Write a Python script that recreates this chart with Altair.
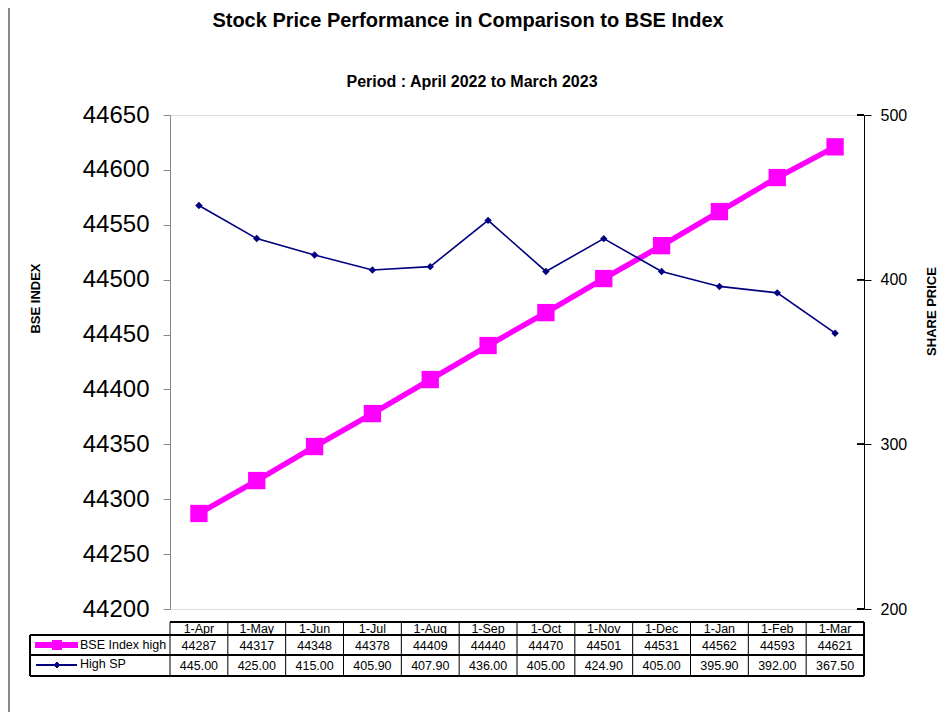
import altair as alt
import pandas as pd

months = ["1-Apr", "1-May", "1-Jun", "1-Jul", "1-Aug", "1-Sep",
          "1-Oct", "1-Nov", "1-Dec", "1-Jan", "1-Feb", "1-Mar"]
bse_high = [44287, 44317, 44348, 44378, 44409, 44440,
            44470, 44501, 44531, 44562, 44593, 44621]
high_sp = [445.00, 425.00, 415.00, 405.90, 407.90, 436.00,
           405.00, 424.90, 405.00, 395.90, 392.00, 367.50]
bse_ticks = list(range(44200, 44651, 50))
sp_ticks = [200, 300, 400, 500]

title_text = "Stock Price Performance in Comparison to BSE Index"
subtitle_text = "Period : April 2022 to March 2023"
series_names = ["BSE Index high", "High SP"]

df = pd.DataFrame({"month": months, "bse": bse_high, "sp": high_sp})

W, H = 694, 494
FONT = "Liberation Sans"
MAGENTA = "#FF00FF"
NAVY = "#000080"
SP_MIN, SP_MAX = 200, 500

xscale = alt.Scale(type="band", domain=months, paddingInner=0, paddingOuter=0)
X = alt.X("month:N", scale=xscale, axis=None, sort=months, bandPosition=0.5)
X0 = alt.X("month:N", scale=xscale, axis=None, sort=months, bandPosition=0)

base = alt.Chart(df)

bse_line = base.mark_line(
    color=MAGENTA, strokeWidth=5.5,
    point=alt.OverlayMarkDef(shape="square", size=300, filled=True, color=MAGENTA, opacity=1),
).encode(
    x=X,
    y=alt.Y("bse:Q", scale=alt.Scale(domain=[44200, 44650], nice=False, zero=False),
            axis=alt.Axis(orient="left", values=bse_ticks, title="BSE INDEX",
                          grid=False, domainColor="#888888", tickColor="#888888", tickSize=7,
                          labelFontSize=24, labelFont=FONT, labelColor="black", labelPadding=14,
                          titleFont=FONT, titleFontSize=13, titleFontWeight="bold", titleColor="black",
                          titleX=-135, titleY=183, titleAngle=270, titleAlign="center",
                          titleBaseline="middle", format="d")),
)

sp_line = base.mark_line(
    color=NAVY, strokeWidth=1.6,
    point=alt.OverlayMarkDef(shape="diamond", size=55, filled=True, color=NAVY, opacity=1),
).encode(
    x=X,
    y=alt.Y("sp:Q", scale=alt.Scale(domain=[SP_MIN, SP_MAX], nice=False, zero=False),
            axis=alt.Axis(orient="right", values=sp_ticks, title="SHARE PRICE",
                          grid=False, domainColor="black", tickColor="black", tickSize=7,
                          labelFontSize=16, labelFont=FONT, labelColor="black", labelPadding=9,
                          titleFont=FONT, titleFontSize=13, titleFontWeight="bold", titleColor="black",
                          titleX=67, titleY=196, titleAngle=270, titleAlign="center",
                          titleBaseline="middle")),
)

# inward half of the crossing ticks on the right axis
inward = [base.mark_rule(color="black", strokeWidth=1).encode(
    x=alt.value(W - 7), x2=alt.value(W), y=alt.value(H * (SP_MAX - v) / (SP_MAX - SP_MIN)))
    for v in sp_ticks]

# Titles
title_mark = alt.Chart(pd.DataFrame({"t": [title_text]})).mark_text(
    font=FONT, fontSize=20, fontWeight="bold", color="black", align="center", baseline="middle"
).encode(text="t:N", x=alt.value(298), y=alt.value(-94))
sub_mark = alt.Chart(pd.DataFrame({"t": [subtitle_text]})).mark_text(
    font=FONT, fontSize=16, fontWeight="bold", color="black", align="center", baseline="middle"
).encode(text="t:N", x=alt.value(302), y=alt.value(-33))

# Data table
TF = 12.5
hdr = base.mark_text(font=FONT, fontSize=TF, color="black", baseline="middle").encode(
    x=X, y=alt.value(514), text="month:N")
row1 = base.mark_text(font=FONT, fontSize=TF, color="black", baseline="middle").encode(
    x=X, y=alt.value(530.5), text=alt.Text("bse:Q", format="d"))
row2 = base.mark_text(font=FONT, fontSize=TF, color="black", baseline="middle").encode(
    x=X, y=alt.value(551), text=alt.Text("sp:Q", format=".2f"))

vlines = base.mark_rule(color="black", strokeWidth=1).encode(
    x=X0, y=alt.value(507), y2=alt.value(561))
right_line = base.mark_rule(color="black", strokeWidth=1).encode(
    x=alt.value(W), y=alt.value(507), y2=alt.value(561))
left_line = base.mark_rule(color="black", strokeWidth=1).encode(
    x=alt.value(-140), y=alt.value(520), y2=alt.value(561))
h_top = base.mark_rule(color="black", strokeWidth=1).encode(
    x=alt.value(0), x2=alt.value(W), y=alt.value(507))
h_rows = [base.mark_rule(color="black", strokeWidth=1).encode(
    x=alt.value(-140), x2=alt.value(W), y=alt.value(yv)) for yv in (520, 540, 561)]

leg1_line = base.mark_rule(color=MAGENTA, strokeWidth=5).encode(
    x=alt.value(-135), x2=alt.value(-92), y=alt.value(530))
leg1_pt = base.mark_point(shape="square", size=90, filled=True, color=MAGENTA, opacity=1).encode(
    x=alt.value(-113), y=alt.value(530))
leg2_line = base.mark_rule(color=NAVY, strokeWidth=1.5).encode(
    x=alt.value(-134), x2=alt.value(-93), y=alt.value(550))
leg2_pt = base.mark_point(shape="diamond", size=30, filled=True, color=NAVY, opacity=1).encode(
    x=alt.value(-113), y=alt.value(550))
leg1_txt = alt.Chart(pd.DataFrame({"n": [series_names[0]]})).mark_text(
    font=FONT, fontSize=TF, color="black", align="left", baseline="middle").encode(
    text="n:N", x=alt.value(-90), y=alt.value(530))
leg2_txt = alt.Chart(pd.DataFrame({"n": [series_names[1]]})).mark_text(
    font=FONT, fontSize=TF, color="black", align="left", baseline="middle").encode(
    text="n:N", x=alt.value(-90), y=alt.value(549))

border = base.mark_rule(color="#888888", strokeWidth=1).encode(
    x=alt.value(-161), y=alt.value(-107), y2=alt.value(597))

chart = alt.layer(
    bse_line, sp_line, *inward, title_mark, sub_mark, hdr, row1, row2,
    vlines, right_line, left_line, h_top, *h_rows,
    leg1_line, leg1_pt, leg2_line, leg2_pt, leg1_txt, leg2_txt, border,
).resolve_scale(y="independent").properties(
    width=W, height=H,
    autosize=alt.AutoSizeParams(type="none"),
    padding={"left": 162, "top": 107, "right": 75, "bottom": 103},
).configure_view(stroke=None).configure(background="white")

chart.save("out.html", embed_options={"renderer": "svg", "actions": False})
